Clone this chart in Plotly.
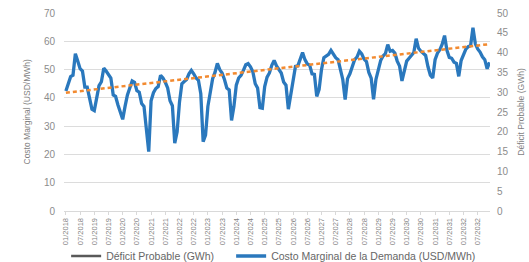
import plotly.graph_objects as go

# ---- data ----
years = list(range(2018, 2033))
month_labels = [f"{m:02d}/{y}" for y in years for m in range(1, 13)]

costo_marginal = [
    42.4, 45.5, 47.5, 48.0, 55.6, 53.0, 50.3, 49.5, 43.8, 43.8, 40.0, 36.0,
    35.5, 40.5, 44.3, 45.7, 50.5, 49.5, 48.0, 47.0, 41.0, 40.5, 37.5, 34.5,
    32.4, 37.0, 41.0, 43.5, 46.0, 45.5, 42.5, 42.0, 38.0, 37.0, 28.0, 21.0,
    39.0, 41.8, 43.3, 44.0, 48.0, 47.0, 45.5, 43.5, 39.0, 37.2, 24.0, 28.0,
    38.5, 45.0, 45.8, 46.5, 48.5, 49.7, 48.5, 47.0, 46.2, 41.5, 24.5, 26.8,
    37.0, 42.3, 46.8, 49.0, 52.2, 50.0, 48.8, 46.5, 43.5, 42.8, 32.0, 37.0,
    44.5, 47.0, 48.0, 49.7, 51.7, 52.1, 51.0, 49.2, 45.0, 43.5, 36.5, 36.3,
    44.0, 47.3, 48.8, 51.5, 53.2, 51.3, 49.9, 48.8, 45.6, 44.5, 36.0, 41.0,
    46.5, 51.1, 51.3, 54.0, 56.0, 53.5, 52.0, 51.6, 48.5, 48.3, 40.5, 43.0,
    50.0, 54.2, 54.8, 55.4, 56.8, 55.5, 54.2, 53.5, 49.5, 46.5, 39.4, 46.8,
    48.5, 51.1, 53.5, 54.4, 56.5, 55.5, 53.7, 52.8, 49.0, 47.0, 39.5, 46.5,
    50.3, 53.2, 54.8, 55.6, 58.8, 56.5, 56.8, 55.8, 53.0, 51.2, 46.0, 49.0,
    53.0, 54.0, 55.0, 56.0, 60.9, 57.5, 56.5, 55.6, 55.0, 51.0, 48.0, 47.0,
    53.5, 55.8, 57.0, 59.0, 62.0, 56.8, 54.3, 54.0, 52.6, 52.2, 47.6, 53.2,
    55.6, 57.2, 58.1, 58.5, 64.8, 59.1, 57.3, 56.2, 54.5, 53.5, 50.3, 52.6,
]

trend_labels = [month_labels[0], month_labels[-1]]
trend_values = [41.8, 59.0]

deficit_probable = [None] * len(month_labels)

tick_labels = month_labels[::6]

BLUE = "#2a78bd"
ORANGE = "#f28a30"
GRAY = "#595959"
FONT = "Liberation Sans, Arial, sans-serif"

fig = go.Figure()
fig.add_trace(go.Scatter(
    x=month_labels, y=deficit_probable, yaxis="y2", mode="lines",
    name="Déficit Probable (GWh)", line=dict(color=GRAY, width=2.5),
    legendwidth=120,
))
fig.add_trace(go.Scatter(
    x=month_labels, y=costo_marginal, mode="lines",
    name="Costo Marginal de la Demanda (USD/MWh)",
    line=dict(color=BLUE, width=3.3), legendwidth=205,
))
fig.add_trace(go.Scatter(
    x=trend_labels, y=trend_values, mode="lines", showlegend=False,
    line=dict(color=ORANGE, width=2.5, dash="4px,3px"),
))

fig.update_layout(
    width=529, height=262,
    margin=dict(l=64, r=39, t=13, b=51, autoexpand=False),
    paper_bgcolor="white", plot_bgcolor="white",
    showlegend=True,
    legend=dict(
        orientation="h", x=0.005, xanchor="left", y=-0.154, yanchor="top",
        font=dict(family=FONT, size=10.5, color="#666666"),
        bgcolor="rgba(0,0,0,0)", borderwidth=0,
    ),
    xaxis=dict(
        type="category", categoryorder="array", categoryarray=month_labels,
        range=[-0.8, 179.2], tickmode="array", tickvals=tick_labels,
        ticktext=tick_labels, tickangle=-90,
        tickfont=dict(family=FONT, size=7.5, color="#7f7f7f"),
        showgrid=False, zeroline=False, showline=True, linecolor="#d9d9d9",
        ticks="outside", ticklen=3, tickcolor="#d9d9d9", automargin=False,
    ),
    yaxis=dict(
        range=[0, 70], dtick=10, showgrid=True, gridcolor="#dcdcdc",
        gridwidth=1, zeroline=False, showline=False,
        tickfont=dict(family=FONT, size=10, color="#8c8c8c"),
        ticklabelstandoff=8, automargin=False,
    ),
    yaxis2=dict(
        range=[0, 50], dtick=5, overlaying="y", side="right",
        showgrid=False, zeroline=False, showline=False,
        tickfont=dict(family=FONT, size=10, color="#8c8c8c"),
        ticklabelstandoff=6, automargin=False,
    ),
    annotations=[
        dict(text="Costo Marginal (USD/MWh)", textangle=-90, xref="paper",
             yref="paper", x=-0.0857, y=0.5, xanchor="center", yanchor="middle",
             showarrow=False, font=dict(family=FONT, size=8.5, color="#7f7f7f")),
        dict(text="Déficit Probable (GWh)", textangle=-90, xref="paper",
             yref="paper", x=1.072, y=0.5, xanchor="center", yanchor="middle",
             showarrow=False, font=dict(family=FONT, size=8.5, color="#7f7f7f")),
    ],
)

fig.write_html(
    "out.html",
    config={"displayModeBar": False},
    post_script="document.body.style.margin='0';document.body.style.overflow='hidden';",
)
